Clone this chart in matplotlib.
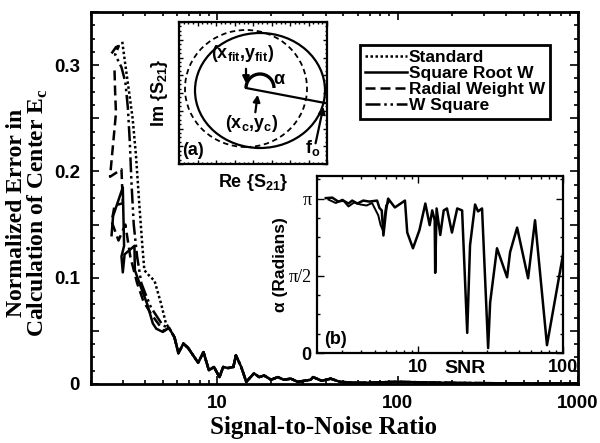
import numpy as np
import matplotlib
matplotlib.use("Agg")
import matplotlib.pyplot as plt
from matplotlib.patches import Ellipse, Arc
from matplotlib.ticker import FixedLocator, MultipleLocator, NullFormatter, FuncFormatter

plt.rcParams['font.family'] = ['Liberation Sans', 'DejaVu Sans']
plt.rcParams['font.weight'] = 'bold'
plt.rcParams['axes.labelweight'] = 'bold'
plt.rcParams['mathtext.fontset'] = 'custom'
plt.rcParams['mathtext.rm'] = 'Liberation Serif:bold'
plt.rcParams['mathtext.bf'] = 'Liberation Sans:bold'

# ---- main plot data (SNR vs normalized centre error) ----
tail_snr = [5.4, 5.8, 6.1, 6.5, 6.9, 7.85, 8.4, 9.0, 9.6, 10.3, 10.8, 11.5, 12.3, 12.7,
            13.6, 14.5, 16.0, 17.1, 18.2, 19.9, 21.7, 23.4, 25.6, 28, 33, 34, 38, 42.6,
            48, 60, 100, 200, 500, 1000]
tail_err = [0.053, 0.044, 0.029, 0.038, 0.034, 0.020, 0.030, 0.013, 0.016, 0.0065, 0.016,
            0.015, 0.016, 0.027, 0.016, 0.002, 0.010, 0.0065, 0.008, 0.004, 0.0065, 0.004,
            0.005, 0.002, 0.004, 0.0065, 0.003, 0.005, 0.002, 0.001, 0.002, 0.001, 0.0005,
            0.0005]

std_snr = [2.98, 3.1, 3.25, 3.4, 3.55, 3.7, 3.85, 3.95, 4.2, 4.5, 4.9, 5.2]
std_err = [0.322, 0.30, 0.275, 0.25, 0.215, 0.17, 0.13, 0.107, 0.102, 0.097, 0.075, 0.057]

sqrt_snr = [2.6, 2.65, 3.0, 3.05, 2.95, 3.0, 3.07, 3.48, 3.5, 3.8, 4.1, 4.4, 4.6, 5.0]
sqrt_err = [0.14, 0.158, 0.185, 0.13, 0.12, 0.105, 0.122, 0.13, 0.107, 0.09, 0.075, 0.057,
            0.052, 0.049]

rad_snr = [2.7, 2.72, 2.75, 2.55, 2.95, 3.0, 2.7, 2.65, 2.6, 2.84, 3.1, 3.3, 3.6, 3.9,
           4.3, 4.8, 5.1]
rad_err = [0.295, 0.275, 0.255, 0.195, 0.202, 0.17, 0.168, 0.16, 0.153, 0.135, 0.15, 0.12,
           0.095, 0.078, 0.066, 0.055, 0.05]

wsq_snr = [2.6, 2.75, 2.85, 2.72, 2.95, 3.1, 3.2, 3.28, 3.35, 3.45, 3.6, 3.8, 4.0, 4.3,
           4.7, 5.0]
wsq_err = [0.311, 0.317, 0.318, 0.31, 0.298, 0.284, 0.26, 0.228, 0.19, 0.15, 0.12, 0.095,
           0.085, 0.072, 0.062, 0.055]

# ---- inset (b) data: alpha vs SNR ----
b_snr = [2.3, 2.55, 2.8, 3.04, 3.3, 3.5, 3.8, 4.17, 4.6, 5.2, 5.4, 5.6, 5.75, 6.0, 6.2,
         6.9, 8.1, 8.4, 9.2, 10.2, 11.2, 12.0, 12.5, 13.0, 13.1, 13.4, 14.2, 15.0, 15.8,
         17.1, 18.6, 20.1, 21.8, 22.8, 24.7, 25.9, 27.6, 30.4, 31.4, 35.0, 41.1, 43.1,
         48.2, 57.4, 64.1, 77.5, 100]
b_alpha = [3.15, 3.16, 3.08, 3.10, 3.04, 3.10, 3.04, 3.10, 3.08, 3.10, 2.95, 2.90, 2.39,
           2.9, 3.14, 2.96, 3.10, 2.45, 2.13, 2.5, 3.04, 2.6, 2.9, 2.7, 1.63, 2.94, 2.4,
           2.9, 2.94, 2.45, 2.94, 2.9, 0.41, 2.19, 3.02, 2.88, 2.94, 0.10, 1.03, 2.13, 1.54,
           2.05, 2.55, 1.52, 2.70, 0.16, 2.0]
b2_snr = [2.4, 2.7, 3.0, 3.3, 3.6, 4.0, 4.4, 4.8, 5.3, 5.5, 5.7, 6.0, 6.3]
b2_alpha = [3.12, 3.05, 3.12, 2.98, 3.06, 3.02, 3.0, 3.05, 2.8, 2.6, 2.5, 3.0, 3.08]


def tail(x, y):
    return list(x) + tail_snr, list(y) + tail_err


fig = plt.figure(figsize=(6, 4.43), dpi=100)
ax = fig.add_axes([0.1517, 0.1332, 0.8117, 0.8397])

lw = 1.8
x, y = tail(std_snr, std_err)
ax.plot(x, y, color='black', lw=lw, ls=(0, (1, 1)), label='Standard')
x, y = tail(sqrt_snr, sqrt_err)
ax.plot(x, y, color='black', lw=lw, ls='-', label='Square Root W')
x, y = tail(rad_snr, rad_err)
ax.plot(x, y, color='black', lw=lw, ls=(0, (4, 2)), label='Radial Weight W')
x, y = tail(wsq_snr, wsq_err)
ax.plot(x, y, color='black', lw=lw, ls=(0, (6, 1.5, 1, 1.5, 1, 1.5)), label='W Square')

ax.set_xscale('log')
ax.set_xlim(2, 1000)
ax.set_ylim(0, 0.35)
ax.yaxis.set_major_locator(MultipleLocator(0.05))
ax.yaxis.set_minor_locator(MultipleLocator(0.0125))
ax.yaxis.set_major_formatter(FuncFormatter(
    lambda v, p: ('0' if abs(v) < 1e-9 else f'{v:.1f}') if abs(v * 10 - round(v * 10)) < 1e-6 else ''))
ax.xaxis.set_major_formatter(FuncFormatter(lambda v, p: f'{v:g}'))
ax.xaxis.set_minor_formatter(NullFormatter())
ax.tick_params(which='both', direction='in', top=True, right=True, width=1.2)
ax.tick_params(which='major', length=6, labelsize=13.5, pad=8)
ax.tick_params(which='minor', length=3)
for s in ax.spines.values():
    s.set_linewidth(2)

ax.set_xlabel('Signal-to-Noise Ratio', family='Liberation Serif', fontsize=18,
              fontweight='bold')
ax.xaxis.set_label_coords(0.478, -0.085)
ax.set_ylabel('Normalized Error in\nCalculation of Center E$_{\\mathrm{c}}$',
              family='Liberation Serif', fontsize=17, fontweight='bold',
              linespacing=0.95)
ax.yaxis.set_label_coords(-0.084, 0.46)

leg = ax.legend(loc='upper left', bbox_to_anchor=(360 / 600, 1 - 45 / 443),
                bbox_transform=fig.transFigure, fontsize=12.5, handlelength=2.4,
                handletextpad=0.1, labelspacing=0.05, borderpad=0.3, borderaxespad=0,
                fancybox=False, framealpha=1, edgecolor='black')
leg.get_frame().set_linewidth(2)

# ---- inset (a): circle sketch ----
axa = fig.add_axes([179 / 600, 1 - 164 / 443, 148 / 600, 142 / 443])
axa.set_xlim(0, 148)
axa.set_ylim(0, 142)
axa.add_patch(Ellipse((81, 73.5), 130, 115, fill=False, lw=1.6, color='black'))
axa.add_patch(Ellipse((67, 75.5), 122, 117, fill=False, lw=1.3, ls=(0, (3, 2)), color='black'))
cx, cy = 81, 76
axa.add_patch(Arc((cx, cy), 28, 28, theta1=0, theta2=180, lw=2.4, color='black'))
axa.plot([cx - 14, 146], [cy, 61], color='black', lw=1.6)
axa.annotate('', xy=(cx - 14, cy + 2), xytext=(cx - 14, cy + 22),
             arrowprops=dict(arrowstyle='-|>', color='black', lw=1.6, mutation_scale=10))
axa.annotate('', xy=(cx - 2, cy - 4), xytext=(cx - 5, cy - 27),
             arrowprops=dict(arrowstyle='-|>', color='black', lw=1.6, mutation_scale=10))
axa.annotate('', xy=(145, 60), xytext=(136, 18),
             arrowprops=dict(arrowstyle='-|>', color='black', lw=1.6, mutation_scale=10))
axa.text(64, 110, '(x$_{\\mathbf{fit}}$,y$_{\\mathbf{fit}}$)', fontsize=13, ha='center', va='center')
axa.text(100, 85, 'α', fontsize=13, ha='center', va='center')
axa.text(73, 40, '(x$_{\\mathbf{c}}$,y$_{\\mathbf{c}}$)', fontsize=13, ha='center', va='center')
axa.text(134, 16, 'f$_{\\mathbf{o}}$', fontsize=13, ha='center', va='center')
axa.text(3, 5, '(a)', fontsize=13, ha='left', va='bottom')
axa.set_xticks(np.linspace(0, 148, 9))
axa.set_yticks(np.linspace(0, 142, 9))
axa.set_xticklabels([])
axa.set_yticklabels([])
axa.xaxis.set_minor_locator(FixedLocator(np.linspace(0, 148, 33)))
axa.yaxis.set_minor_locator(FixedLocator(np.linspace(0, 142, 33)))
axa.tick_params(which='both', direction='in', top=True, right=True, width=1)
axa.tick_params(which='major', length=3)
axa.tick_params(which='minor', length=1.5)
for s in axa.spines.values():
    s.set_linewidth(1.6)
axa.set_xlabel('Re {S$_{\\mathbf{21}}$}', fontsize=13, labelpad=2)
axa.set_ylabel('Im {S$_{\\mathbf{21}}$}', fontsize=13, labelpad=3)

# ---- inset (b): alpha vs SNR ----
axb = fig.add_axes([317 / 600, 1 - 353 / 443, 246 / 600, 177 / 443])
axb.plot(b_snr, b_alpha, color='black', lw=1.8)
axb.plot(b2_snr, b2_alpha, color='black', lw=1.4)
axb.set_xscale('log')
axb.set_xlim(2, 100)
axb.set_ylim(0, 3.6)
axb.set_yticks([0, np.pi / 2, np.pi])
axb.set_yticklabels(['0', 'π/2', 'π'])
for t in axb.get_yticklabels()[1:]:
    t.set_family('Liberation Serif')
    t.set_fontweight('normal')
axb.yaxis.set_minor_locator(MultipleLocator(np.pi / 8))
axb.xaxis.set_major_formatter(FuncFormatter(lambda v, p: f'{v:g}'))
axb.xaxis.set_minor_formatter(NullFormatter())
axb.tick_params(which='both', direction='in', top=True, right=True, width=1)
axb.tick_params(which='major', length=5, labelsize=13, pad=4)
axb.tick_params(which='minor', length=2.5)
for s in axb.spines.values():
    s.set_linewidth(1.6)
axb.set_ylabel('α (Radians)', fontsize=12.5, labelpad=0)
axb.text(0.6, -0.085, 'SNR', transform=axb.transAxes, fontsize=14, ha='center', va='center')
axb.text(0.03, 0.03, '(b)', transform=axb.transAxes, fontsize=13, ha='left', va='bottom')

fig.savefig('out.png', dpi=100)
